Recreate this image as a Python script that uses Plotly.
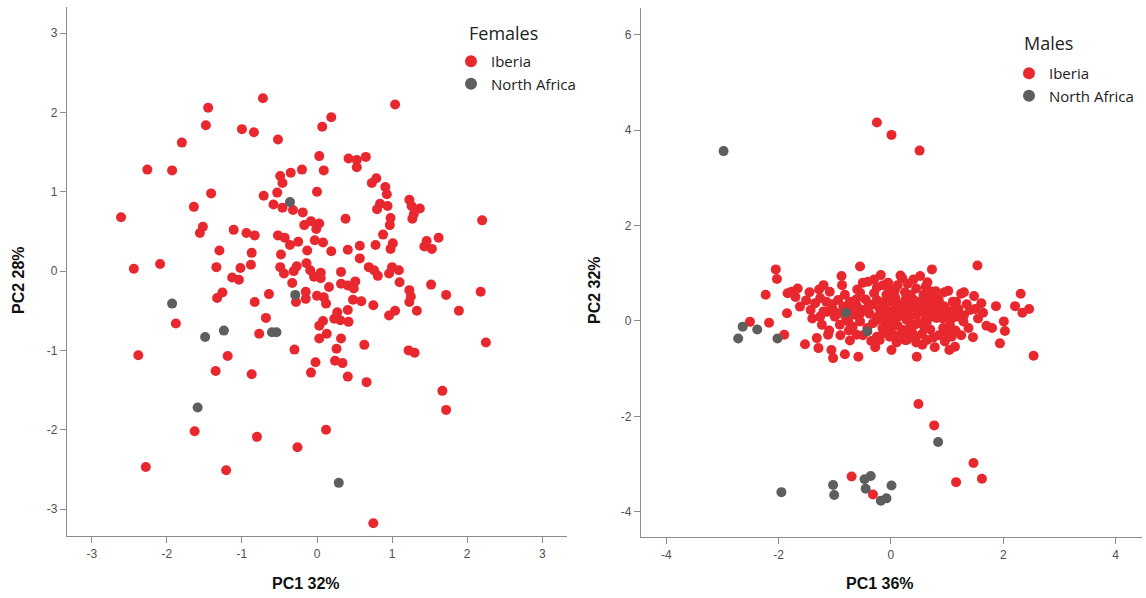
import plotly.graph_objects as go

# ---- Females: PCA scores (PC1, PC2) ----
fem_iberia_pc1 = [
    -0.72, -1.45, -1.48, -1.00, -0.84, -0.52, -1.80, -2.26, -1.93, -0.49, -0.35, -0.46,
    -1.41, -0.71, -0.53, -1.64, -0.58, -0.46, -0.32, -2.61, -1.52, -1.56, -1.11, -0.94,
    -0.83, -0.52, -0.43, -0.25, -0.36, -1.30, -0.87, -0.48, -1.34, -1.02, -0.88, -0.49,
    -0.27, -0.44, -0.31, -2.44, -2.09, -1.13, -1.04, -0.33, -1.26, -1.33, -0.64, -0.83,
    -0.28, -1.88, -0.68, -0.77, -0.30, -2.38, -1.19, -1.35, -0.87, -1.63, -0.80, -2.28,
    -1.21,
    1.04, 0.19, 0.07, 0.03, 0.42, 0.53, 0.65, 0.53, -0.20, 0.09, 0.79, 0.73,
    0.91, 0.93, 0.00, 1.23, 1.26, 1.37, 1.29, 1.27, 0.84, 0.94, 0.80, 2.20,
    0.38, 0.98, 0.97, -0.19, -0.17, -0.08, 0.03, -0.01, 0.88, 1.62, 1.46, 1.43,
    1.53, 0.78, 1.01, 0.98, 0.57, 0.41, 0.19, -0.03, 0.08, -0.13, 0.57, 0.69,
    0.81, 0.76, 1.00, 1.09, 0.96, 0.32, -0.14, -0.09, -0.04, 0.05, 0.05, 0.16,
    0.32, 0.41, 0.51, 0.49, 1.10, 1.52, 1.23, 1.25, 1.23, 1.72, 2.18, 1.89,
    1.33, 0.75, 1.04, 0.96, -0.15, -0.15, 0.00, 0.09, 0.12, 0.48, 0.59, 0.41,
    0.27, 0.23, 0.31, 0.42, 0.08, 0.03, 0.13, 0.03, 0.32, 0.26, 0.63, 1.22,
    1.30, 2.25, -0.02, 0.24, 0.34, -0.08, 0.41, 0.66, 1.67, 1.72, 0.12, -0.26,
    0.75,
]
fem_iberia_pc2 = [
    2.18, 2.06, 1.84, 1.79, 1.75, 1.66, 1.62, 1.28, 1.27, 1.20, 1.24, 1.11,
    0.98, 0.95, 0.99, 0.81, 0.84, 0.80, 0.77, 0.68, 0.56, 0.48, 0.52, 0.48,
    0.45, 0.45, 0.42, 0.37, 0.33, 0.26, 0.23, 0.21, 0.05, 0.04, 0.08, 0.05,
    0.06, -0.03, 0.00, 0.03, 0.09, -0.08, -0.11, -0.15, -0.27, -0.34, -0.29, -0.39,
    -0.39, -0.66, -0.59, -0.79, -0.99, -1.06, -1.07, -1.26, -1.30, -2.02, -2.09, -2.47,
    -2.51,
    2.10, 1.94, 1.82, 1.45, 1.42, 1.40, 1.44, 1.31, 1.28, 1.27, 1.17, 1.11,
    1.06, 0.97, 1.00, 0.90, 0.82, 0.79, 0.72, 0.66, 0.85, 0.82, 0.78, 0.64,
    0.66, 0.67, 0.58, 0.74, 0.58, 0.63, 0.60, 0.53, 0.46, 0.42, 0.38, 0.31,
    0.28, 0.33, 0.35, 0.28, 0.32, 0.27, 0.25, 0.39, 0.36, 0.26, 0.16, 0.05,
    -0.06, 0.01, 0.05, 0.01, -0.03, -0.01, 0.10, 0.01, -0.07, -0.02, -0.09, -0.20,
    -0.16, -0.18, -0.13, -0.22, -0.14, -0.17, -0.24, -0.32, -0.39, -0.30, -0.26, -0.50,
    -0.50, -0.43, -0.50, -0.56, -0.26, -0.35, -0.31, -0.33, -0.41, -0.36, -0.38, -0.49,
    -0.52, -0.60, -0.62, -0.64, -0.63, -0.69, -0.79, -0.85, -0.85, -0.98, -0.93, -1.00,
    -1.03, -0.90, -1.15, -1.13, -1.16, -1.28, -1.33, -1.40, -1.51, -1.75, -2.00, -2.22,
    -3.18,
]
fem_nafrica_pc1 = [-0.36, -0.29, -1.93, -1.24, -1.49, -0.60, -0.54, -1.59, 0.29]
fem_nafrica_pc2 = [0.87, -0.30, -0.41, -0.75, -0.83, -0.77, -0.77, -1.72, -2.67]

# ---- Males: PCA scores (PC1, PC2) ----
male_iberia_pc1 = [
    -0.25, 0.01, 0.51,
    -2.05, -2.03, -2.23, -1.84, -1.66, -1.77, -1.28, -1.20, -1.09, -0.88, -0.87, -0.55,
    -0.60, -0.55, -0.18, -0.30, -0.41, -0.14, -0.02, 0.17, 0.40, 0.52, 0.65, 0.73,
    1.54, 1.02, 1.25, 1.16, 1.48, 1.61, 1.64, 1.41, 1.87, 2.31, 2.21, 2.34,
    2.46, 2.01, 2.03, 1.80, 1.94, 1.46, 2.54, 0.46, 1.14, 1.04, 0.78, 0.64,
    0.56, 1.29, 1.17, 1.05, 0.93, 0.81, 0.87, 0.75, 0.64, 0.34, 0.43, 0.25,
    -0.02, 0.01, 1.08, 0.96, 0.64, 0.22, -0.14, -0.25, 0.99,
    -0.94, -0.82, -0.73, -1.26, -1.35, -1.62, -1.51, -1.43, -1.85, -1.14, -1.03, -1.00,
    -1.26, -1.23, -0.91, -0.76, -0.64, -0.49, -0.34, -0.25, -0.08, 0.07, -0.55, -0.25,
    -0.08, 0.10, -2.17, -2.51, -1.90, -1.53, -1.32, -1.29, -1.06, -1.03, -0.82, -0.58,
    -0.73, -0.61, -0.02, -1.12,
    -0.45, -0.38, -0.30, -0.20, -0.12, -0.05, 0.02, 0.08, 0.12, 0.15, 0.20, 0.25,
    0.28, 0.32, 0.35, 0.40, 0.45, 0.50, 0.52, 0.58, 0.60, 0.68, 0.70, 0.72,
    0.78, 0.85, 0.92, 0.95, 1.05, 1.10, 1.20, 1.30, -0.60, -0.68, -0.42, -0.15,
    0.05, 0.18, 0.38, 0.55, 0.62, 0.30, -0.05, 0.45, 0.80, 1.35, 1.38, 1.25,
    0.10, -0.35, -0.85, -0.95, -1.15, -0.28, 0.20, 0.05, -0.50, 1.00, 0.75,
    -0.40, -0.32, -0.22, -0.10, 0.00, 0.05, 0.14, 0.22, 0.26, 0.33, 0.38, 0.42,
    0.48, 0.55, 0.62, 0.65, 0.74, 0.82, 0.88, 0.98, 1.08, 1.15, -0.55, -0.62,
    -0.80, -0.70, -1.05, -1.20, -1.40, -1.10, -0.90, -0.75, -0.50, -0.20, 0.00, 0.28,
    0.45, 0.60, 0.85, 1.15, 1.55, 1.70, 1.50, -1.70, -1.45, -0.25, 0.12, 0.95,
    1.30, -0.10, 0.35, 0.70,
    0.49, 0.77, 1.47, 1.16, 1.62, -0.70, -0.32,
]
male_iberia_pc2 = [
    4.16, 3.90, 3.57,
    1.08, 0.88, 0.55, 0.58, 0.68, 0.61, 0.66, 0.75, 0.61, 0.94, 0.75, 1.14,
    0.66, 0.59, 0.96, 0.87, 0.82, 0.75, 0.66, 0.95, 0.87, 0.94, 0.81, 1.08,
    1.16, 0.63, 0.57, 0.40, 0.52, 0.37, 0.17, 0.23, 0.31, 0.57, 0.31, 0.17,
    0.25, -0.01, -0.21, -0.15, -0.47, -0.34, -0.73, -0.75, -0.54, -0.61, -0.55, -0.40,
    -0.50, -0.01, 0.09, -0.08, -0.15, 0.06, 0.23, 0.37, 0.48, -0.26, -0.36, -0.40,
    -0.33, -0.61, -0.33, -0.43, -0.01, -0.19, -0.26, -0.33, 0.09,
    0.44, 0.55, 0.40, 0.48, 0.37, 0.30, 0.43, 0.23, 0.16, 0.19, 0.23, 0.09,
    0.09, -0.08, -0.08, -0.01, 0.13, 0.23, 0.34, 0.44, 0.55, 0.65, -0.01, 0.02,
    0.16, 0.30, -0.04, -0.02, -0.29, -0.49, -0.36, -0.57, -0.61, -0.78, -0.70, -0.75,
    -0.41, -0.29, -0.22, -0.29,
    0.45, 0.15, 0.58, 0.25, 0.40, -0.05, 0.20, 0.48, -0.10, 0.10, 0.35, 0.60,
    0.02, 0.25, -0.12, 0.45, 0.12, -0.05, 0.30, 0.55, 0.18, 0.35, -0.18, 0.10,
    0.22, 0.45, 0.05, 0.30, 0.20, 0.40, 0.25, 0.12, 0.30, -0.12, -0.15, -0.15,
    0.58, -0.28, -0.25, -0.28, 0.72, 0.78, 0.80, 0.68, 0.62, 0.35, -0.15, -0.30,
    -0.45, -0.42, 0.30, 0.15, 0.40, -0.55, 0.90, -0.30, 0.80, -0.25, -0.35,
    0.30, -0.05, 0.10, 0.25, 0.40, 0.05, 0.28, 0.15, 0.45, 0.08, 0.35, -0.08,
    0.22, 0.42, 0.05, 0.28, 0.48, 0.08, 0.35, 0.15, 0.05, 0.30, 0.15, 0.45,
    0.05, 0.25, 0.35, 0.20, 0.05, -0.20, -0.30, -0.20, -0.30, -0.40, -0.15, -0.40,
    -0.45, -0.15, -0.30, -0.20, 0.05, -0.10, 0.25, 0.50, 0.60, 0.70, 0.75, 0.60,
    0.60, 0.00, 0.55, 0.62,
    -1.74, -2.19, -2.98, -3.38, -3.31, -3.26, -3.64,
]
male_nafrica_pc1 = [-2.98, -2.64, -2.72, -2.38, -2.02, -0.80, -0.42, 0.84, -0.47,
                    -0.36, -0.45, -0.18, -0.08, 0.01, -1.03, -1.01, -1.95]
male_nafrica_pc2 = [3.56, -0.12, -0.37, -0.18, -0.37, 0.17, -0.22, -2.54, -3.32,
                    -3.25, -3.52, -3.77, -3.72, -3.45, -3.44, -3.65, -3.59]

fem_ticks = [-3, -2, -1, 0, 1, 2, 3]
male_x_ticks = [-4, -2, 0, 2, 4]
male_y_ticks = [-4, -2, 0, 2, 4, 6]

RED = "#E8282E"
GREY = "#5E5E5E"
W, H = 1146, 598


def px_x(p):
    return p / W


def px_y(p):
    return 1 - p / H


def tick_text(vals):
    # plain hyphen-minus, as in SPSS output
    return [str(v) for v in vals]


marker_kw = dict(size=10, line=dict(width=0))

fig = go.Figure()
fig.add_trace(go.Scatter(x=fem_iberia_pc1, y=fem_iberia_pc2, mode="markers", name="Iberia",
                         marker=dict(color=RED, **marker_kw), legend="legend"))
fig.add_trace(go.Scatter(x=fem_nafrica_pc1, y=fem_nafrica_pc2, mode="markers", name="North Africa",
                         marker=dict(color=GREY, **marker_kw), legend="legend"))
fig.add_trace(go.Scatter(x=male_iberia_pc1, y=male_iberia_pc2, mode="markers", name="Iberia",
                         marker=dict(color=RED, **marker_kw), xaxis="x2", yaxis="y2",
                         legend="legend2"))
fig.add_trace(go.Scatter(x=male_nafrica_pc1, y=male_nafrica_pc2, mode="markers", name="North Africa",
                         marker=dict(color=GREY, **marker_kw), xaxis="x2", yaxis="y2",
                         legend="legend2"))

axis_common = dict(
    showgrid=False, zeroline=False, showline=True, linecolor="#8C8C8C", linewidth=1.2,
    ticks="outside", ticklen=6, tickcolor="#8C8C8C", tickwidth=1.2,
    tickfont=dict(family="Liberation Sans, Arial, sans-serif", size=12, color="#505050"),
    mirror=False,
)

legend_common = dict(
    xanchor="left", yanchor="top", bgcolor="rgba(0,0,0,0)", borderwidth=0,
    font=dict(family="Open Sans, sans-serif", size=15, color="#222222"),
    itemsizing="constant", tracegroupgap=0,
)

fig.update_layout(
    width=W, height=H,
    margin=dict(l=0, r=0, t=0, b=0),
    paper_bgcolor="white", plot_bgcolor="white",
    xaxis=dict(domain=[px_x(67), px_x(567)], range=[-3.33, 3.33], tickvals=fem_ticks,
               ticktext=tick_text(fem_ticks), anchor="y", **axis_common),
    yaxis=dict(domain=[px_y(536), px_y(7)], range=[-3.34, 3.33], tickvals=fem_ticks,
               ticktext=tick_text(fem_ticks), anchor="x", **axis_common),
    xaxis2=dict(domain=[px_x(641), px_x(1142)], range=[-4.45, 4.47], tickvals=male_x_ticks,
                ticktext=tick_text(male_x_ticks), anchor="y2", **axis_common),
    yaxis2=dict(domain=[px_y(537), px_y(8)], range=[-4.53, 6.56], tickvals=male_y_ticks,
                ticktext=tick_text(male_y_ticks), anchor="x2", **axis_common),
    legend=dict(x=px_x(451), y=px_y(45), **legend_common),
    legend2=dict(x=px_x(1009), y=px_y(57), **legend_common),
    showlegend=True,
)

title_font = dict(family="Liberation Sans, Arial, sans-serif", size=16, color="#111111")
legend_title_font = dict(family="Open Sans, sans-serif", size=18, color="#222222")

annotations = [
    dict(text="<b>PC1 32%</b>", x=px_x(306), y=px_y(583), font=title_font),
    dict(text="<b>PC1 36%</b>", x=px_x(880), y=px_y(583), font=title_font),
    dict(text="<b>PC2 28%</b>", x=px_x(18), y=px_y(280), font=title_font, textangle=-90),
    dict(text="<b>PC2 32%</b>", x=px_x(594), y=px_y(290), font=title_font, textangle=-90),
    dict(text="Females", x=px_x(467), y=px_y(33), xanchor="left", font=legend_title_font),
    dict(text="Males", x=px_x(1022), y=px_y(43), xanchor="left", font=legend_title_font),
]
for a in annotations:
    a.setdefault("xanchor", "center")
    fig.add_annotation(xref="paper", yref="paper", showarrow=False, yanchor="middle", **a)

fig.write_html("out.html")
